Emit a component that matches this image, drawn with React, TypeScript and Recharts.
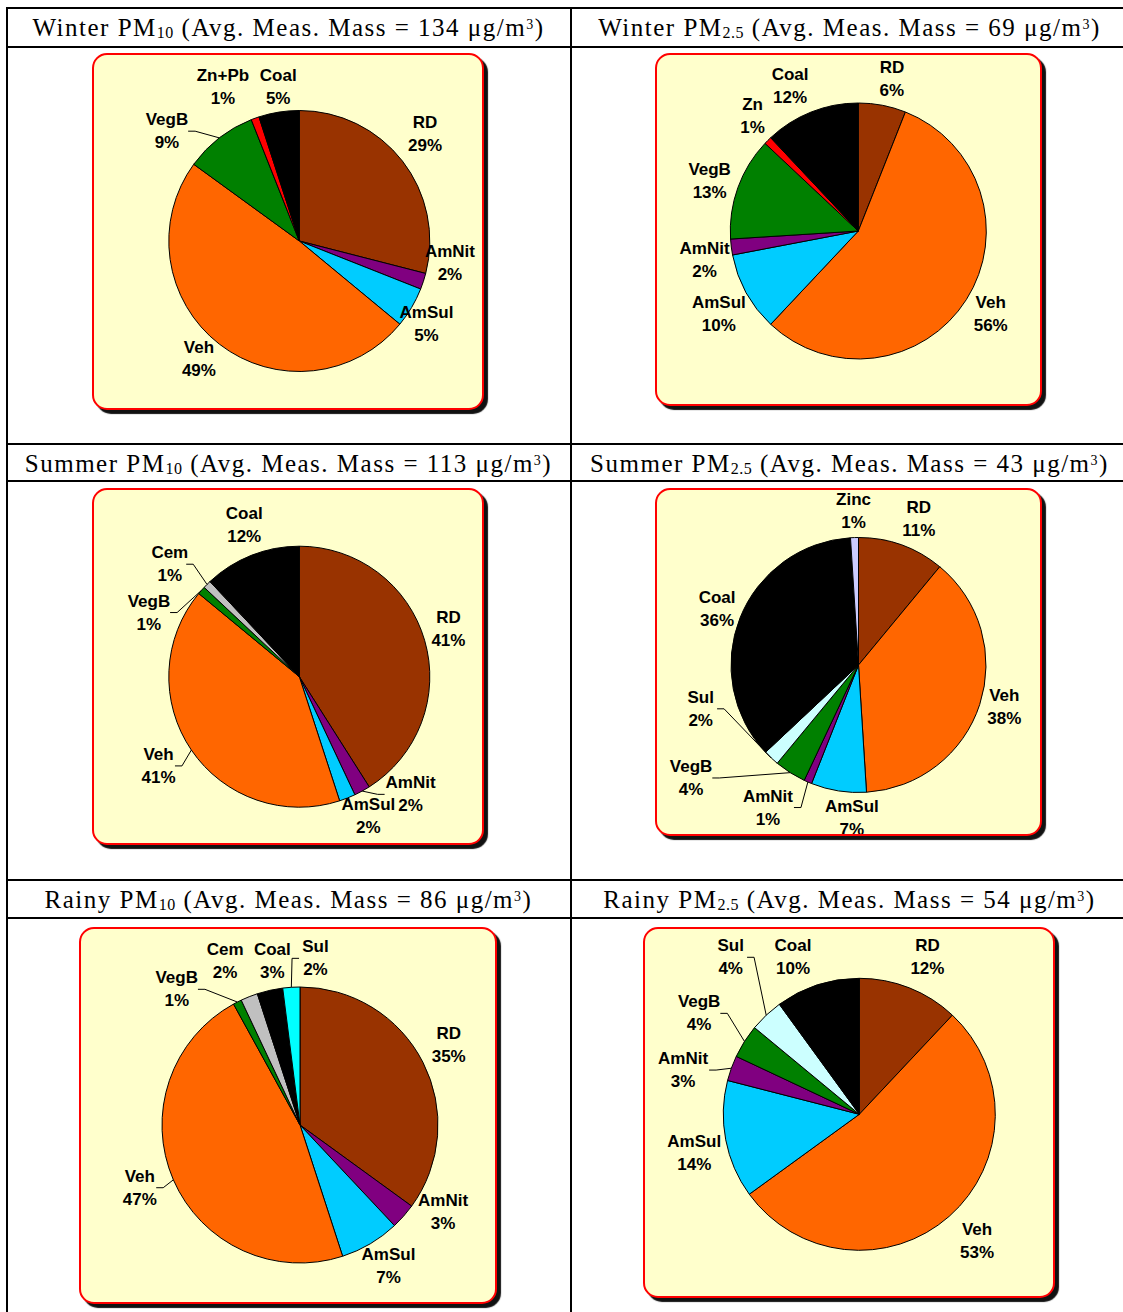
import { Cell, Pie, PieChart } from "recharts";

// ---- data (percent of mass, clockwise from 12 o'clock) ----
const winterPm10Sources = ["RD", "AmNit", "AmSul", "Veh", "VegB", "Zn+Pb", "Coal"];
const winterPm10Shares = [29, 2, 5, 49, 9, 1, 5];

const winterPm25Sources = ["RD", "Veh", "AmSul", "AmNit", "VegB", "Zn", "Coal"];
const winterPm25Shares = [6, 56, 10, 2, 13, 1, 12];

const summerPm10Sources = ["RD", "AmNit", "AmSul", "Veh", "VegB", "Cem", "Coal"];
const summerPm10Shares = [41, 2, 2, 41, 1, 1, 12];

const summerPm25Sources = ["RD", "Veh", "AmSul", "AmNit", "VegB", "Sul", "Coal", "Zinc"];
const summerPm25Shares = [11, 38, 7, 1, 4, 2, 36, 1];

const rainyPm10Sources = ["RD", "AmNit", "AmSul", "Veh", "VegB", "Cem", "Coal", "Sul"];
const rainyPm10Shares = [35, 3, 7, 47, 1, 2, 3, 2];

const rainyPm25Sources = ["RD", "Veh", "AmSul", "AmNit", "VegB", "Sul", "Coal"];
const rainyPm25Shares = [12, 53, 14, 3, 4, 4, 10];

const seasons = ["Winter", "Summer", "Rainy"];
const pm10Mass = [134, 113, 86];
const pm25Mass = [69, 43, 54];

// ---- styles ----
const SOURCE_COLORS: Record<string, string> = {
  RD: "#993300",
  Veh: "#ff6600",
  AmSul: "#00ccff",
  AmNit: "#800080",
  VegB: "#008000",
  Coal: "#000000",
  "Zn+Pb": "#ff0000",
  Zn: "#ff0000",
  Cem: "#c0c0c0",
  Sul: "#ccffff",
  Zinc: "#ccccff",
};

const RAD = Math.PI / 180;
const LABEL_GAP = 30;

type Panel = {
  sources: string[];
  shares: number[];
  box: [number, number, number, number];
  cx: number;
  cy: number;
  r: number;
  nudges: number[][];
  leaders: number[];
  colorOverrides?: Record<string, string>;
};

const panels: Panel[] = [
  {
    sources: winterPm10Sources,
    shares: winterPm10Shares,
    box: [92, 53, 392, 357],
    cx: 207.3,
    cy: 188,
    r: 130.5,
    nudges: [[-1, -9], [-2, -28], [-11, 1], [-2, -9], [-34, 17], [-22, -3], [4, 5]],
    leaders: [4],
  },
  {
    sources: winterPm25Sources,
    shares: winterPm25Shares,
    box: [655, 53, 387, 353],
    cx: 203.3,
    cy: 178,
    r: 128,
    nudges: [[4, 3], [-1, -2], [-1, 7], [3, 9], [0, 4], [6, -3], [-10, 2]],
    leaders: [],
  },
  {
    sources: summerPm10Sources,
    shares: summerPm10Shares,
    box: [92, 488, 392, 357],
    cx: 207.3,
    cy: 188.7,
    r: 130.5,
    nudges: [[-5, -3], [34, -23], [10, -10], [-8, -1], [-30, 42], [-16, 1], [4, -2]],
    leaders: [1, 3, 4, 5],
  },
  {
    sources: summerPm25Sources,
    shares: summerPm25Shares,
    box: [655, 488, 387, 348],
    cx: 203.5,
    cy: 177,
    r: 127.5,
    nudges: [[7, 2], [-4, -7], [18, -3], [-28, -2], [-83, -20], [-50, -71], [5, 2], [0, 3]],
    leaders: [3, 4, 5],
  },
  {
    sources: rainyPm10Sources,
    shares: rainyPm10Shares,
    box: [79, 927, 418, 377],
    cx: 221,
    cy: 198,
    r: 138,
    nudges: [[-1, -4], [17, -24], [3, -4], [-6, -4], [-47, 14], [-13, -8], [9, 0], [26, 1]],
    leaders: [3, 4, 7],
    colorOverrides: { Sul: "#00ffff" },
  },
  {
    sources: rainyPm25Sources,
    shares: rainyPm25Shares,
    box: [643, 927, 412, 371],
    cx: 216.3,
    cy: 187.3,
    r: 136,
    nudges: [[7, -3], [8, 2], [-2, 8], [-20, 12], [-20, -12], [-15, -36], [-15, 1]],
    leaders: [3, 4, 5],
  },
];

const BORDER = 2.5;
const NO_MARGIN = { top: 0, right: 0, bottom: 0, left: 0 };

function makeLabel(panel: Panel) {
  return (props: any) => {
    const { cx, cy, midAngle, outerRadius, index, value, payload } = props;
    const a = -midAngle * RAD;
    const [dx, dy] = panel.nudges[index] ?? [0, 0];
    const lx = cx + Math.cos(a) * (outerRadius + LABEL_GAP) + dx;
    const ly = cy + Math.sin(a) * (outerRadius + LABEL_GAP) + dy;
    const name: string = payload?.name ?? props.name;
    const pct = `${value}%`;
    let leader = null;
    if (panel.leaders.includes(index)) {
      const ex = cx + Math.cos(a) * outerRadius;
      const ey = cy + Math.sin(a) * outerRadius;
      const side = lx < ex ? 1 : -1;
      const halfW = Math.max(name.length, pct.length) * 4.8;
      const ax = lx + side * (halfW + 2);
      const bx = ax + side * 7;
      leader = (
        <polyline
          points={`${ax},${ly} ${bx},${ly} ${ex},${ey}`}
          fill="none"
          stroke="#000"
          strokeWidth={1}
        />
      );
    }
    return (
      <g key={`lbl-${index}`}>
        {leader}
        <text
          x={lx}
          y={ly - 11.5}
          textAnchor="middle"
          dominantBaseline="central"
          fontFamily='"Liberation Sans", Arial, sans-serif'
          fontWeight="bold"
          fontSize={17}
          fill="#000"
        >
          {name}
        </text>
        <text
          x={lx}
          y={ly + 11.5}
          textAnchor="middle"
          dominantBaseline="central"
          fontFamily='"Liberation Sans", Arial, sans-serif'
          fontWeight="bold"
          fontSize={17}
          fill="#000"
        >
          {pct}
        </text>
      </g>
    );
  };
}

function PiePanel({ panel }: { panel: Panel }) {
  const [left, top, w, h] = panel.box;
  const data = panel.sources.map((name, i) => ({ name, value: panel.shares[i] }));
  return (
    <div
      style={{
        position: "absolute",
        left,
        top,
        width: w,
        height: h,
        boxSizing: "border-box",
        background: "#ffffcc",
        border: `${BORDER}px solid #ff0000`,
        borderRadius: 15,
        boxShadow: "4px 4px 1px #111",
        overflow: "hidden",
      }}
    >
      <div style={{ position: "absolute", left: -BORDER, top: -BORDER }}>
        <PieChart width={w} height={h} margin={NO_MARGIN}>
          <Pie
            data={data}
            dataKey="value"
            nameKey="name"
            cx={panel.cx}
            cy={panel.cy}
            outerRadius={panel.r}
            startAngle={90}
            endAngle={-270}
            stroke="#000"
            strokeWidth={1}
            labelLine={false}
            label={makeLabel(panel)}
            isAnimationActive={false}
          >
            {data.map((d, i) => (
              <Cell
                key={i}
                fill={panel.colorOverrides?.[d.name] ?? SOURCE_COLORS[d.name]}
              />
            ))}
          </Pie>
        </PieChart>
      </div>
    </div>
  );
}

function Header({
  season,
  size,
  mass,
  left,
  top,
  width,
}: {
  season: string;
  size: string;
  mass: number;
  left: number;
  top: number;
  width: number;
}) {
  return (
    <div
      style={{
        position: "absolute",
        left,
        top,
        width,
        height: 37,
        display: "flex",
        alignItems: "center",
        justifyContent: "center",
        fontFamily: '"Liberation Serif", "Times New Roman", serif',
        fontSize: 25,
        letterSpacing: 1.5,
        whiteSpace: "nowrap",
        color: "#000",
      }}
    >
      <span>
        {season} PM
        <span style={{ fontSize: "0.64em", position: "relative", top: "0.15em", letterSpacing: 0.5 }}>
          {size}
        </span>
        {` (Avg. Meas. Mass = ${mass} μg/m`}
        <span style={{ fontSize: "0.56em", position: "relative", top: "-0.5em" }}>3</span>)
      </span>
    </div>
  );
}

const hLines = [7, 46, 443, 480, 879, 917];
const headerTops = [9, 445, 881];

export default function App() {
  return (
    <div
      style={{
        position: "absolute",
        left: 0,
        top: 0,
        width: 1123,
        height: 1312,
        overflow: "hidden",
        background: "#fff",
      }}
    >
      {hLines.map((y, i) => (
        <div
          key={i}
          style={{ position: "absolute", left: 6, top: y, width: 1130, height: 2, background: "#000" }}
        />
      ))}
      <div style={{ position: "absolute", left: 6, top: 7, width: 1.5, height: 1310, background: "#000" }} />
      <div style={{ position: "absolute", left: 570, top: 7, width: 2, height: 1310, background: "#000" }} />
      {seasons.map((s, i) => (
        <Header key={`a${i}`} season={s} size="10" mass={pm10Mass[i]} left={7} top={headerTops[i]} width={563} />
      ))}
      {seasons.map((s, i) => (
        <Header key={`b${i}`} season={s} size="2.5" mass={pm25Mass[i]} left={572} top={headerTops[i]} width={555} />
      ))}
      {panels.map((p, i) => (
        <PiePanel key={i} panel={p} />
      ))}
    </div>
  );
}
